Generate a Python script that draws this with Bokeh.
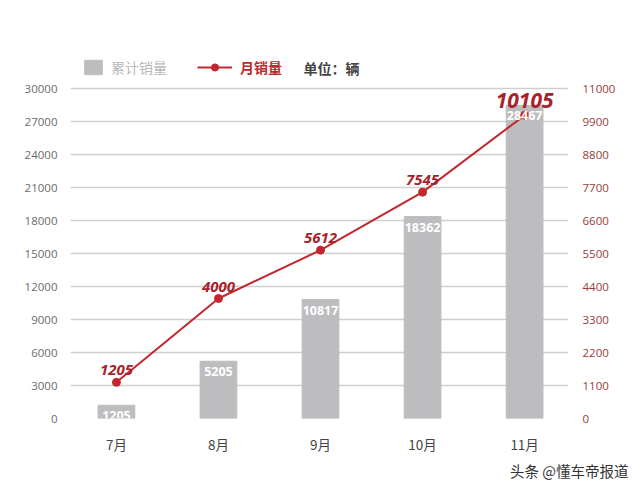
from bokeh.plotting import figure
from bokeh.models import (ColumnDataSource, Range1d, LinearAxis, FixedTicker,
                          LabelSet, Label, Legend, LegendItem, Title)
from bokeh.core.properties import value
from bokeh.embed import file_html
from bokeh.resources import INLINE

# ---- data ----
months = ["7月", "8月", "9月", "10月", "11月"]
cumulative = [1205, 5205, 10817, 18362, 28467]
monthly = [1205, 4000, 5612, 7545, 10105]
left_ticks = list(range(0, 30001, 3000))
right_ticks = list(range(0, 11001, 1100))

# ---- styles ----
BAR = "#bdbdbf"
RED = "#c1272d"
DARKRED = "#a8222b"
AXRED = "#9a3b3b"
GRID = "#cfcfcf"
NUMFONT = "Open Sans"
CJK = "Noto Sans CJK SC"

xs = list(range(len(months)))
src = ColumnDataSource(dict(
    x=xs, cum=cumulative, mon=monthly,
    cum_txt=[str(v) for v in cumulative],
    mon_txt=[str(v) for v in monthly],
    mon_size=["15px"] * (len(monthly) - 1) + ["21px"],
))

p = figure(width=640, height=489, output_backend="svg", toolbar_location=None,
           x_range=Range1d(-0.45, 4.43), y_range=Range1d(0, 33000),
           min_border_left=70, min_border_right=72, min_border_top=55,
           min_border_bottom=71)
p.extra_y_ranges = {"right": Range1d(0, 12100)}
p.outline_line_color = None
p.background_fill_color = "white"
p.border_fill_color = "white"

# axes
p.yaxis.ticker = FixedTicker(ticks=left_ticks)
p.yaxis.axis_line_color = None
p.yaxis.major_tick_line_color = None
p.yaxis.minor_tick_line_color = None
p.yaxis.major_label_text_color = "#6b6b6b"
p.yaxis.major_label_text_font = NUMFONT
p.yaxis.major_label_text_font_size = "11.5px"
p.yaxis.major_label_standoff = 7

p.xaxis.ticker = FixedTicker(ticks=xs)
p.xaxis.major_label_overrides = {i: m for i, m in enumerate(months)}
p.xaxis.axis_line_color = None
p.xaxis.major_tick_line_color = None
p.xaxis.minor_tick_line_color = None
p.xaxis.major_label_text_color = "#444444"
p.xaxis.major_label_text_font = CJK
p.xaxis.major_label_text_font_size = "13.5px"
p.xaxis.major_label_standoff = 9

ra = LinearAxis(y_range_name="right", ticker=FixedTicker(ticks=right_ticks))
ra.axis_line_color = None
ra.major_tick_line_color = None
ra.minor_tick_line_color = None
ra.major_label_text_color = AXRED
ra.major_label_text_font = NUMFONT
ra.major_label_text_font_size = "11.5px"
ra.major_label_standoff = 8
p.add_layout(ra, "right")

p.xgrid.grid_line_color = None
p.ygrid.grid_line_color = GRID
p.ygrid.grid_line_width = 1.5

# bars
bars = p.vbar(x="x", top="cum", width=0.36, source=src, color=BAR)
# line
ln = p.line(x="x", y="mon", source=src, y_range_name="right", line_color=RED, line_width=2)
pts = p.scatter(x="x", y="mon", source=src, y_range_name="right", size=8,
                fill_color=RED, line_color=RED)

# labels
bar_lbl = LabelSet(x="x", y="cum", text="cum_txt", source=src, text_align="center",
                   text_baseline="top", y_offset=-6, text_color="white",
                   text_font=value(NUMFONT), text_font_style="bold",
                   text_font_size="12.5px")
p.add_layout(bar_lbl)
line_lbl = LabelSet(x="x", y="mon", text="mon_txt", source=src, y_range_name="right",
                    text_align="center", text_baseline="bottom", y_offset=7,
                    text_color=DARKRED, text_font=value(NUMFONT),
                    text_font_style="bold italic", text_font_size={"field": "mon_size"})
p.add_layout(line_lbl)

# legends
leg1 = Legend(items=[LegendItem(label="累计销量", renderers=[bars])],
              location=(12, 341), orientation="horizontal",
              background_fill_alpha=0, border_line_color=None,
              padding=0, margin=0, glyph_width=22, glyph_height=18, label_height=18,
              label_standoff=7, label_text_color="#b8b8b8", label_text_font=CJK,
              label_text_font_size="14px")
leg2 = Legend(items=[LegendItem(label="月销量", renderers=[ln, pts])],
              location=(127, 341), orientation="horizontal",
              background_fill_alpha=0, border_line_color=None,
              padding=0, margin=0, glyph_width=35, glyph_height=18, label_height=18,
              label_standoff=8, label_text_color=RED, label_text_font=CJK,
              label_text_font_style="bold", label_text_font_size="14px")
p.add_layout(leg1)
p.add_layout(leg2)

p.add_layout(Label(x=233, y=341, x_units="screen", y_units="screen", text="单位：辆",
                   text_color="#444444", text_font=CJK, text_font_style="bold",
                   text_font_size="14px", text_baseline="bottom"))

wm = Title(text="头条 @懂车帝报道", align="right", offset=-60, text_color="#333333",
           text_font=CJK, text_font_size="14.5px", text_font_style="normal",
           standoff=2)
p.add_layout(wm, "below")

open("out.html", "w").write(file_html(p, INLINE))
